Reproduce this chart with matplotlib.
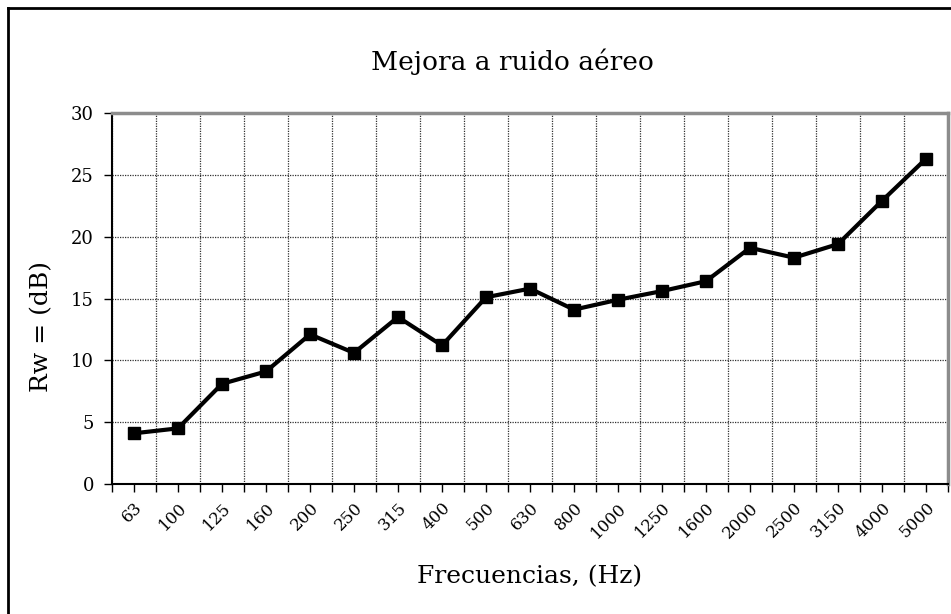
import matplotlib.pyplot as plt
from matplotlib.lines import Line2D

freqs = ['63', '100', '125', '160', '200', '250', '315', '400', '500', '630',
         '800', '1000', '1250', '1600', '2000', '2500', '3150', '4000', '5000']
rw = [4.1, 4.5, 8.1, 9.1, 12.1, 10.6, 13.5, 11.2, 15.1, 15.8,
      14.1, 14.9, 15.6, 16.4, 19.1, 18.3, 19.4, 22.9, 26.3]
yticks = [0, 5, 10, 15, 20, 25, 30]

plt.rcParams['font.family'] = ['DejaVu Serif']

fig = plt.figure(figsize=(9.51, 6.14), dpi=100)
W, H = 951, 614
ax = fig.add_axes([112 / W, 1 - 484 / H, (948 - 112) / W, (484 - 113) / H])

x = range(len(freqs))
ax.plot(x, rw, color='black', lw=3, marker='s', ms=8, zorder=3, clip_on=False)

ax.set_xlim(-0.5, len(freqs) - 0.5)
ax.set_ylim(0, 30)
ax.set_yticks(yticks)
ax.set_xticks([i - 0.5 for i in range(len(freqs) + 1)])
ax.set_xticklabels([])
ax.set_xticks(list(x), minor=True)
ax.set_xticklabels(freqs, minor=True, rotation=45, ha='right',
                   rotation_mode='anchor', fontsize=12)
ax.tick_params(axis='x', which='both', direction='out', length=6, width=1,
               pad=5)
ax.tick_params(axis='y', direction='out', length=6, width=1, labelsize=13,
               pad=7)

ax.grid(True, which='major', color='#303030', ls=(0, (1, 1)), lw=0.9)
ax.set_axisbelow(True)

for s in ['top', 'right']:
    ax.spines[s].set_color('#8c8c8c')
    ax.spines[s].set_linewidth(2.5)
for s in ['left', 'bottom']:
    ax.spines[s].set_color('black')
    ax.spines[s].set_linewidth(1.5)

fig.text(512 / W, 1 - 62 / H, 'Mejora a ruido aéreo', fontsize=19,
         ha='center', va='center')
fig.text(42 / W, 1 - 327 / H, 'Rw = (dB)', fontsize=18, rotation=90,
         ha='center', va='center')
fig.text(530 / W, 1 - 577 / H, 'Frecuencias, (Hz)', fontsize=18,
         ha='center', va='center')

# outer chart frame, cropped at right and bottom
fig.add_artist(Line2D([7.5 / W, 7.5 / W], [0, 1 - 7.5 / H], color='black',
                      lw=2, transform=fig.transFigure))
fig.add_artist(Line2D([7.5 / W, 1], [1 - 7.5 / H, 1 - 7.5 / H], color='black',
                      lw=2, transform=fig.transFigure))

fig.savefig('out.png', dpi=100)
